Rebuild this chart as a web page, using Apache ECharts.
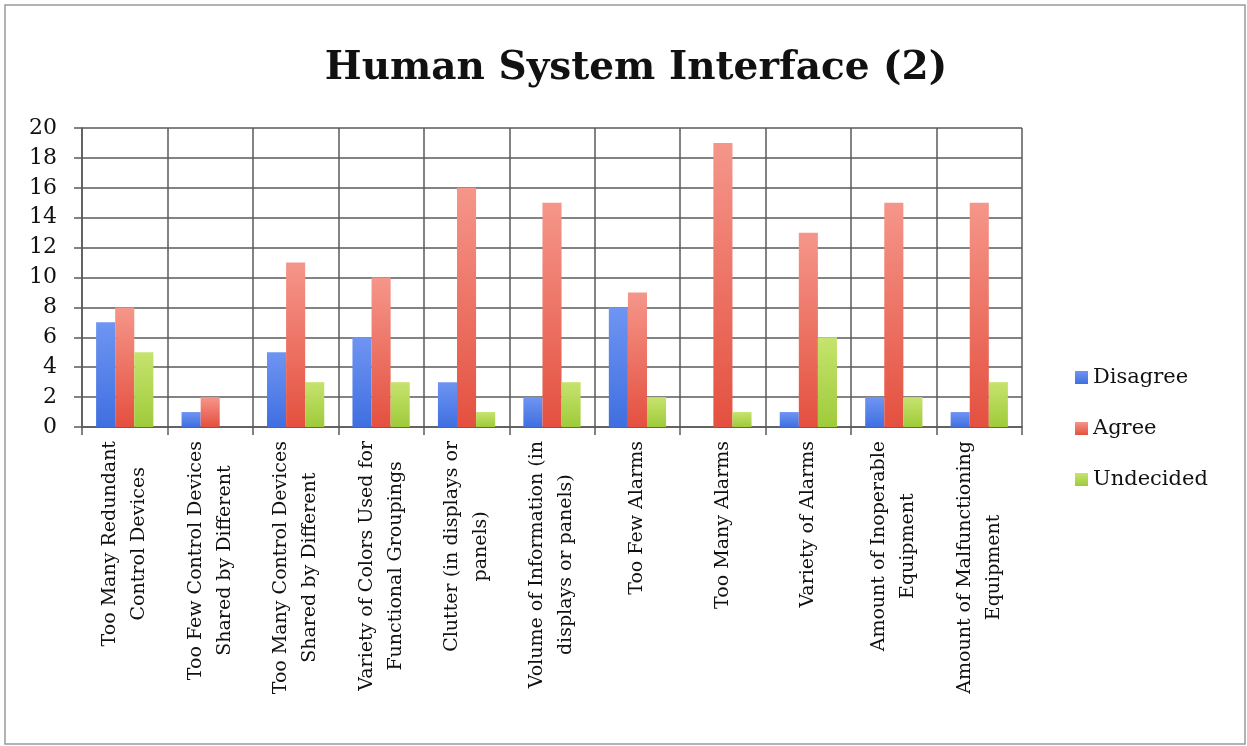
<!DOCTYPE html>
<html>
<head>
<meta charset="utf-8">
<script src="https://cdn.jsdelivr.net/npm/echarts@6/dist/echarts.min.js"></script>
<style>
  html, body { margin: 0; padding: 0; background: #fff; }
  #chart { width: 1247px; height: 746px; }
</style>
</head>
<body>
<div id="chart"></div>
<script>
var categories = [
  'Too Many Redundant\nControl Devices',
  'Too Few Control Devices\nShared by Different',
  'Too Many Control Devices\nShared by Different',
  'Variety of Colors Used for\nFunctional Groupings',
  'Clutter (in displays or\npanels)',
  'Volume of Information (in\ndisplays or panels)',
  'Too Few Alarms',
  'Too Many Alarms',
  'Variety of Alarms',
  'Amount of Inoperable\nEquipment',
  'Amount of Malfunctioning\nEquipment'
];
var disagree  = [7, 1, 5, 6, 3, 2, 8, 0, 1, 2, 1];
var agree     = [8, 2, 11, 10, 16, 15, 9, 19, 13, 15, 15];
var undecided = [5, 0, 3, 3, 1, 3, 2, 1, 6, 2, 3];

var font = 'DejaVu Serif';
var gridColor = '#5a5a5a';
var textColor = '#111';

function grad(top, bottom) {
  return new echarts.graphic.LinearGradient(0, 0, 0, 1, [
    { offset: 0, color: top },
    { offset: 1, color: bottom }
  ]);
}

var myChart = echarts.init(document.getElementById('chart'));
myChart.setOption({
  backgroundColor: '#fff',
  animation: false,
  title: {
    text: 'Human System Interface (2)',
    left: 631,
    textAlign: 'center',
    top: 44,
    textStyle: { fontFamily: font, fontWeight: 'bold', fontSize: 39, color: textColor }
  },
  graphic: [{
    type: 'rect',
    shape: { x: 5, y: 5, width: 1240, height: 739 },
    style: { fill: 'none', stroke: '#9a9a9a', lineWidth: 1.5 },
    silent: true
  }],
  legend: {
    orient: 'vertical',
    left: 1070,
    top: 362,
    itemWidth: 13,
    itemHeight: 13,
    itemGap: 30,
    icon: 'rect',
    textStyle: { fontFamily: font, fontSize: 21, color: textColor },
    data: ['Disagree', 'Agree', 'Undecided']
  },
  grid: { left: 82, right: 225, top: 128, bottom: 319 },
  xAxis: {
    type: 'category',
    data: categories,
    axisLine: { lineStyle: { color: gridColor, width: 1.5 } },
    axisTick: { show: true, length: 8, lineStyle: { color: gridColor, width: 1.5 } },
    splitLine: { show: true, lineStyle: { color: gridColor, width: 1.5 } },
    axisLabel: {
      interval: 0,
      rotate: 90,
      margin: 14,
      color: textColor,
      fontFamily: font,
      fontSize: 19,
      formatter: function (v) {
        return v.split('\n').map(function (l) { return '{c|' + l + '}'; }).join('\n');
      },
      rich: {
        c: { align: 'center', fontFamily: font, fontSize: 19, lineHeight: 29, color: textColor }
      }
    }
  },
  yAxis: {
    type: 'value',
    min: 0,
    max: 20,
    interval: 2,
    axisLine: { show: true, lineStyle: { color: gridColor, width: 1.5 } },
    axisTick: { show: true, length: 8, lineStyle: { color: gridColor, width: 1.5 } },
    splitLine: { lineStyle: { color: gridColor, width: 1.5 } },
    axisLabel: { margin: 25, color: textColor, fontFamily: font, fontSize: 22 }
  },
  series: [
    {
      name: 'Disagree', type: 'bar', data: disagree,
      barGap: '0%', barCategoryGap: '33%',
      itemStyle: { color: grad('#6f95f2', '#3f6fe0') }
    },
    {
      name: 'Agree', type: 'bar', data: agree,
      itemStyle: { color: grad('#f5968a', '#e4503f') }
    },
    {
      name: 'Undecided', type: 'bar', data: undecided,
      itemStyle: { color: grad('#c6e36e', '#9fcb3a') }
    }
  ]
});
</script>
</body>
</html>
